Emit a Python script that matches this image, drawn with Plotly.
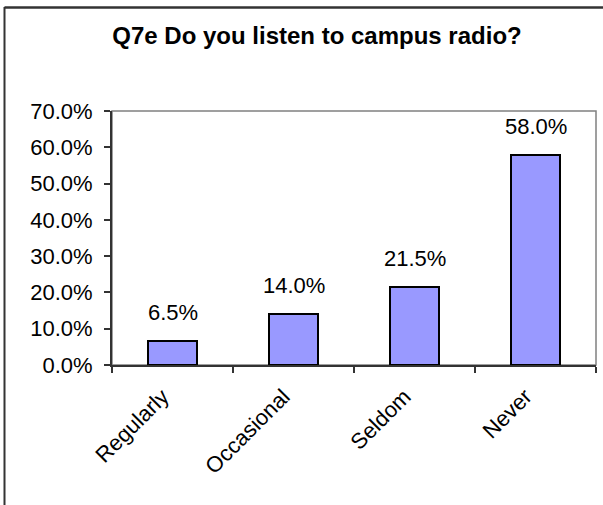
import plotly.graph_objects as go

categories = ["Regularly", "Occasional", "Seldom", "Never"]
values = [0.065, 0.14, 0.215, 0.58]
labels = ["6.5%", "14.0%", "21.5%", "58.0%"]
title_text = "Q7e Do you listen to campus radio?"

W, H = 603, 505
L, R, T, B = 112, 7, 111, 140
pw, ph = W - L - R, H - T - B

def px_x(x):
    return (x - L) / pw

def px_y(y):
    return (H - B - y) / ph

FONT = "Liberation Sans, Arial, sans-serif"

fig = go.Figure()
fig.add_trace(go.Bar(
    x=categories, y=values, width=0.41,
    marker=dict(color="#9999FF", line=dict(color="#000000", width=2)),
    hoverinfo="skip",
))

annotations = []
for c, v, t in zip(categories, values, labels):
    annotations.append(dict(x=c, y=v, xref="x", yref="y", text=t, showarrow=False,
                            yanchor="bottom", yshift=14,
                            font=dict(family=FONT, size=22, color="#000000")))

fig.update_layout(
    width=W, height=H,
    margin=dict(l=L, r=R, t=T, b=B),
    paper_bgcolor="#FFFFFF", plot_bgcolor="#FFFFFF",
    showlegend=False,
    bargap=0,
    title=dict(text="<b>" + title_text + "</b>", x=317 / W, xref="container", xanchor="center",
               y=1 - 36 / H, yref="container", yanchor="middle",
               font=dict(family=FONT, size=24, color="#000000")),
    annotations=annotations,
    shapes=[
        dict(type="rect", xref="paper", yref="paper", x0=0, x1=1, y0=0, y1=1,
             line=dict(color="#808080", width=1.5), layer="below"),
        dict(type="line", xref="paper", yref="paper",
             x0=px_x(4.5), x1=px_x(615), y0=px_y(7.5), y1=px_y(7.5),
             line=dict(color="#333333", width=2.5)),
        dict(type="line", xref="paper", yref="paper",
             x0=px_x(4.5), x1=px_x(4.5), y0=px_y(7), y1=px_y(520),
             line=dict(color="#333333", width=2)),
    ],
)
fig.update_yaxes(
    range=[0, 0.7], dtick=0.1, tickformat=".1%",
    showgrid=False, zeroline=False,
    showline=True, linecolor="#333333", linewidth=2,
    ticks="outside", ticklen=6, tickwidth=1.5, tickcolor="#333333",
    ticklabelstandoff=7,
    tickfont=dict(family=FONT, size=22, color="#000000"),
)
fig.update_xaxes(
    showgrid=False, zeroline=False,
    showline=True, linecolor="#333333", linewidth=2,
    ticks="outside", ticklen=6, tickwidth=1.5, tickcolor="#333333",
    tickson="boundaries", tickangle=-45,
    ticklabelstandoff=8, ticklabelshift=-10,
    tickfont=dict(family=FONT, size=22, color="#000000"),
)

fig.write_html("out.html", config={"displayModeBar": False},
               post_script="document.body.style.margin='0';document.body.style.overflow='hidden';")
